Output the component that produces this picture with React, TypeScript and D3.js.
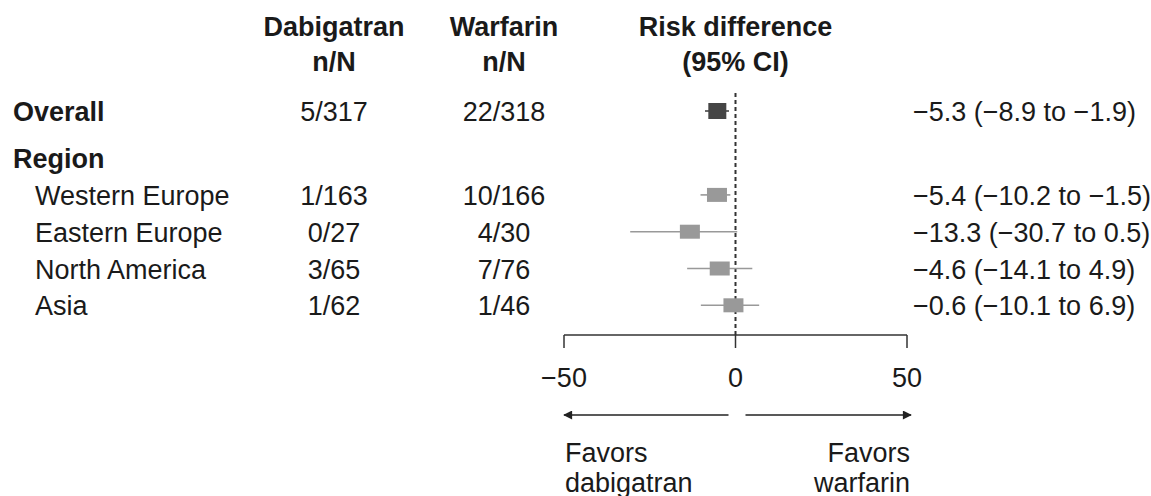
import React from 'react';
import * as d3 from 'd3';

const rowLabels = ['Overall', 'Western Europe', 'Eastern Europe', 'North America', 'Asia'];
const dabigatranCounts = ['5/317', '1/163', '0/27', '3/65', '1/62'];
const warfarinCounts = ['22/318', '10/166', '4/30', '7/76', '1/46'];
const estimates = [-5.3, -5.4, -13.3, -4.6, -0.6];
const lowers = [-8.9, -10.2, -30.7, -14.1, -10.1];
const uppers = [-1.9, -1.5, 0.5, 4.9, 6.9];
const axisTicks = [-50, 0, 50];
const groupLabel = 'Region';

const W = 1151;
const H = 496;
const font = '"Liberation Sans", Arial, Helvetica, sans-serif';
const fs = 27;
const textColor = '#1a1a1a';

const fmt = (v: number) => (v < 0 ? '\u2212' : '') + Math.abs(v).toFixed(1);
const tickFmt = (v: number) => (v < 0 ? '\u2212' : '') + Math.abs(v);

export default function App() {
    const x = d3.scaleLinear().domain([-50, 50]).range([564, 907]);
    // baseline of each text row; row 0 is overall, then a gap for the "Region" heading
    const y = d3.scaleLinear().domain([0, 1]).range([121, 157.8]);
    const slot = (i: number) => (i === 0 ? 0 : i + 1.28);
    const groupY = y(1.28);
    const axisY = 335;
    const arrowY = 415;
    const x0 = x(0);

    return (
        <svg width={W} height={H} style={{ position: 'absolute', left: 0, top: 0, background: '#fff' }}
            fontFamily={font} fontSize={fs} fill={textColor}>
            <defs>
                <marker id="arr" viewBox="0 0 10 10" refX="9" refY="5" markerWidth="15" markerHeight="9"
                    markerUnits="userSpaceOnUse" orient="auto">
                    <path d="M0,0 L10,5 L0,10 z" fill="#222" />
                </marker>
            </defs>

            {/* headers */}
            <g fontWeight="bold" textAnchor="middle">
                <text x={334} y={36}>Dabigatran</text>
                <text x={334} y={71}>n/N</text>
                <text x={504} y={36}>Warfarin</text>
                <text x={504} y={71}>n/N</text>
                <text x={x0} y={36}>Risk difference</text>
                <text x={x0} y={71}>(95% CI)</text>
            </g>

            <text x={13} y={groupY} fontWeight="bold">{groupLabel}</text>

            {/* zero line */}
            <line x1={x0} x2={x0} y1={93} y2={axisY} stroke="#333" strokeWidth={2} strokeDasharray="4,3" />

            {rowLabels.map((lab, i) => {
                const by = y(slot(i));
                const cy = by - 10;
                const overall = i === 0;
                const bw = overall ? 18 : 20;
                const bh = overall ? 16 : 14;
                const col = overall ? '#454545' : '#999';
                return (
                    <g key={lab}>
                        <text x={overall ? 13 : 35} y={by} fontWeight={overall ? 'bold' : 'normal'}>{lab}</text>
                        <text x={334} y={by} textAnchor="middle">{dabigatranCounts[i]}</text>
                        <text x={504} y={by} textAnchor="middle">{warfarinCounts[i]}</text>
                        <line x1={x(lowers[i])} x2={x(uppers[i])} y1={cy} y2={cy} stroke={col} strokeWidth={1.6} />
                        <rect x={x(estimates[i]) - bw / 2} y={cy - bh / 2} width={bw} height={bh} fill={col} />
                        <text x={913} y={by}>{`${fmt(estimates[i])} (${fmt(lowers[i])} to ${fmt(uppers[i])})`}</text>
                    </g>
                );
            })}

            {/* axis */}
            <g stroke="#333" strokeWidth={1.5} fill="none">
                <line x1={x(-50)} x2={x(50)} y1={axisY} y2={axisY} />
                {axisTicks.map(t => (
                    <line key={t} x1={x(t)} x2={x(t)} y1={axisY} y2={axisY + 13} />
                ))}
            </g>
            <g textAnchor="middle">
                {axisTicks.map(t => (
                    <text key={t} x={x(t)} y={387}>{tickFmt(t)}</text>
                ))}
            </g>

            {/* direction arrows */}
            <line x1={x0 - 7} x2={x(-50)} y1={arrowY} y2={arrowY} stroke="#222" strokeWidth={1.5} markerEnd="url(#arr)" />
            <line x1={x0 + 10} x2={x(50) + 4} y1={arrowY} y2={arrowY} stroke="#222" strokeWidth={1.5} markerEnd="url(#arr)" />

            <text x={x(-50) + 1} y={462}>Favors</text>
            <text x={x(-50) + 1} y={492}>dabigatran</text>
            <text x={x(50) + 3} y={462} textAnchor="end">Favors</text>
            <text x={x(50) + 3} y={492} textAnchor="end">warfarin</text>
        </svg>
    );
}
